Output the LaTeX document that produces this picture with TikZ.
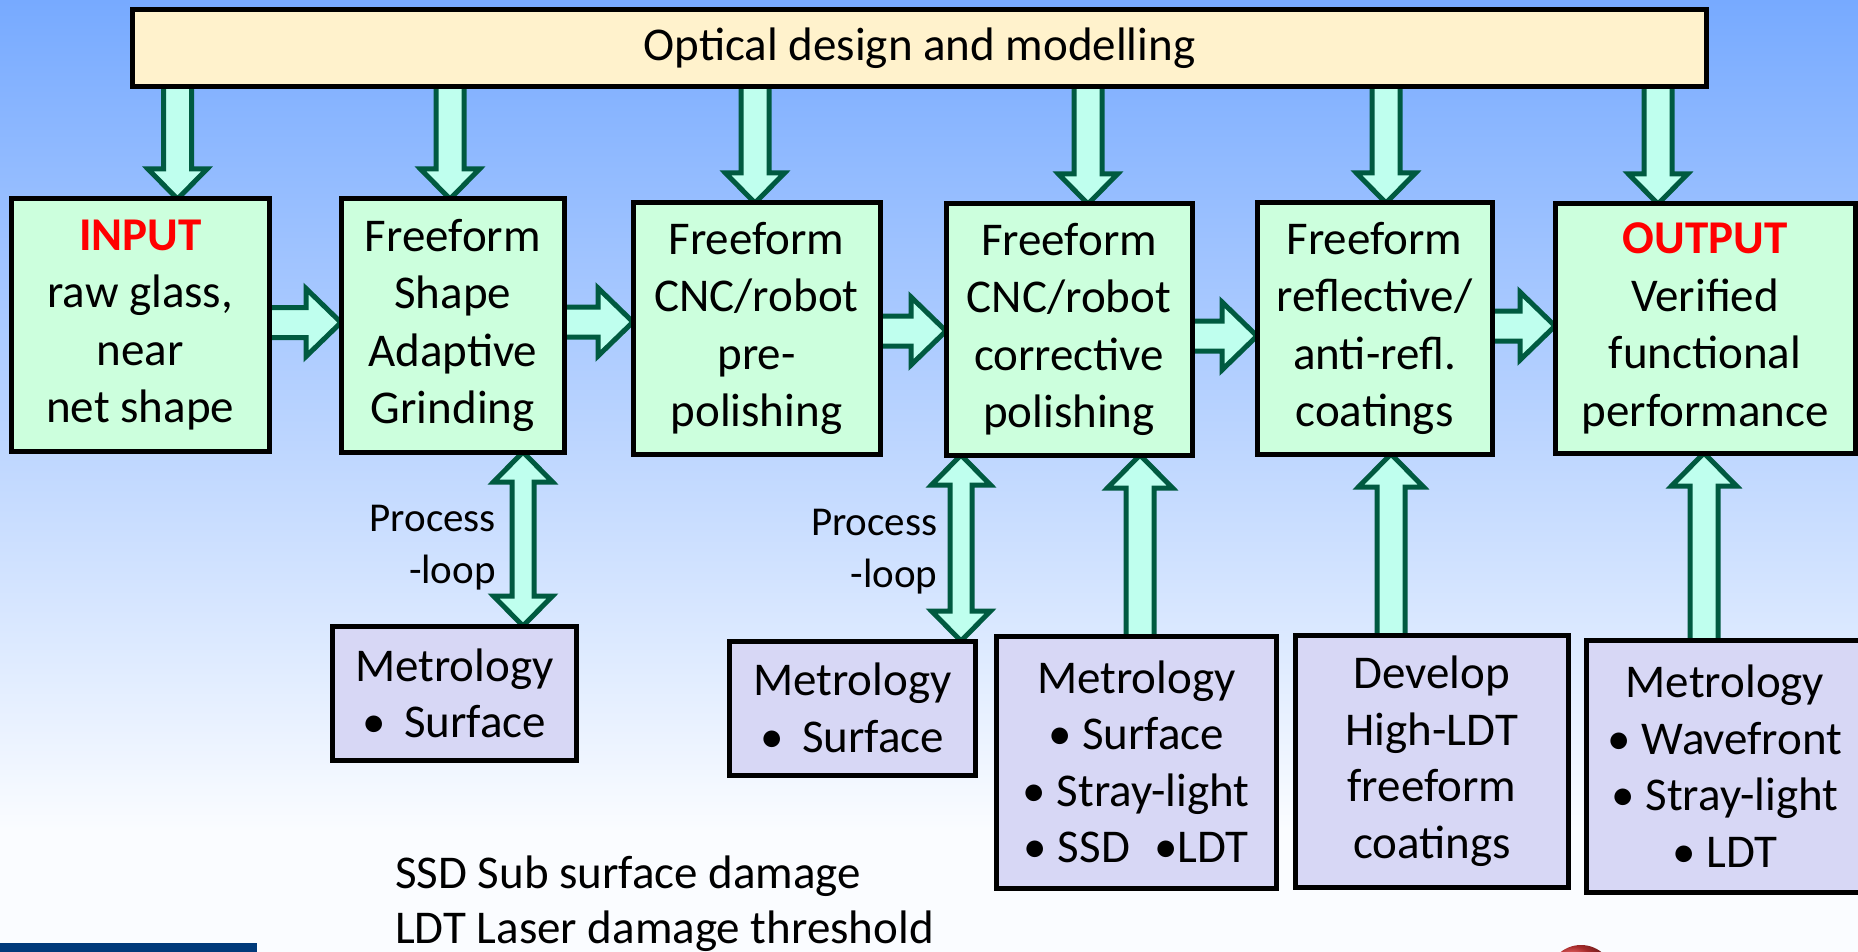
\documentclass[tikz,border=0pt]{standalone}
\usepackage{fontspec}
\setmainfont{Carlito}
\usetikzlibrary{calc}
\pgfdeclarelayer{backdrop}
\pgfdeclarelayer{connectors}
\pgfsetlayers{backdrop,connectors,main}

\definecolor{skytop}{RGB}{119,170,255}
\definecolor{skybottom}{RGB}{250,252,255}
\definecolor{designfill}{RGB}{255,242,204}
\definecolor{stagefill}{RGB}{204,255,221}
\definecolor{metrofill}{RGB}{215,215,245}
\definecolor{arrowfill}{RGB}{191,255,238}
\definecolor{arrowline}{RGB}{0,90,64}
\definecolor{labelred}{RGB}{255,0,0}
\definecolor{logoblue}{RGB}{0,58,122}
\definecolor{ballred}{RGB}{235,60,60}

\tikzset{
  boxbase/.style={draw=black, line width=5pt, inner sep=0pt, outer sep=0pt,
    align=center, font=\fontsize{47}{57.5}\selectfont},
  designbox/.style={boxbase, fill=designfill},
  stagebox/.style={boxbase, fill=stagefill},
  metrobox/.style={boxbase, fill=metrofill, font=\fontsize{47}{56.5}\selectfont},
  blockarrow/.style={draw=arrowline, fill=arrowfill, line width=5pt, line join=miter},
  looplabel/.style={align=right, anchor=east, inner sep=0pt,
    font=\fontsize{41}{52}\selectfont},
  notetext/.style={anchor=base west, inner sep=0pt, font=\fontsize{47}{55}\selectfont},
}

% block arrow pointing down: #1 x-position, #2 source node, #3 target node
\newcommand\blockdown[3]{%
  \draw[blockarrow] let \p1=(#1 |- #2.south), \p2=(#1 |- #3.north) in
    (\x1-14pt,\y1) -- (\x1-14pt,\y2+30pt) -- (\x1-29.5pt,\y2+30pt) -- (\x1,\y2)
    -- (\x1+29.5pt,\y2+30pt) -- (\x1+14pt,\y2+30pt) -- (\x1+14pt,\y1);}
% block arrow pointing right: #1 y-position, #2 source node, #3 target node
\newcommand\blockright[3]{%
  \draw[blockarrow] let \p1=(#2.east |- #1), \p2=(#3.west |- #1) in
    (\x1,\y1+15pt) -- (\x2-35pt,\y1+15pt) -- (\x2-35pt,\y1+34pt) -- (\x2,\y1)
    -- (\x2-35pt,\y1-34pt) -- (\x2-35pt,\y1-15pt) -- (\x1,\y1-15pt);}
% block arrow pointing up: #1 x-position, #2 source node (below), #3 target node (above)
\newcommand\blockup[3]{%
  \draw[blockarrow] let \p1=(#1 |- #2.north), \p2=(#1 |- #3.south) in
    (\x1-14pt,\y1) -- (\x1-14pt,\y2-33pt) -- (\x1-32.5pt,\y2-33pt) -- (\x1,\y2)
    -- (\x1+32.5pt,\y2-33pt) -- (\x1+14pt,\y2-33pt) -- (\x1+14pt,\y1);}
% double-headed vertical block arrow: #1 x-position, #2 upper node, #3 lower node
\newcommand\blockboth[3]{%
  \draw[blockarrow] let \p1=(#1 |- #2.south), \p2=(#1 |- #3.north) in
    (\x1,\y1) -- (\x1+29.5pt,\y1-30pt) -- (\x1+11pt,\y1-30pt) -- (\x1+11pt,\y2+30pt)
    -- (\x1+29.5pt,\y2+30pt) -- (\x1,\y2) -- (\x1-29.5pt,\y2+30pt) -- (\x1-11pt,\y2+30pt)
    -- (\x1-11pt,\y1-30pt) -- (\x1-29.5pt,\y1-30pt) -- cycle;}

\begin{document}
\begin{tikzpicture}[x=1pt,y=-1pt]
\useasboundingbox (0,0) rectangle (1858,952);

\begin{pgfonlayer}{backdrop}
  \fill[top color=skytop, bottom color=skybottom] (0,0) rectangle (1858,830);
  \fill[skybottom] (0,829) rectangle (1858,952);
  \fill[logoblue] (0,943) rectangle (257,952);
  \shade[ball color=ballred] (1581,978) circle (33);
\end{pgfonlayer}

% design bar
\node[designbox, minimum width=1574pt, minimum height=77pt] (design) at (919.5,48.5)
  {Optical design and modelling};

% process stages
\node[stagebox, minimum width=257.5pt, minimum height=252pt] (input) at (140.25,325)
  {{\bfseries\color{labelred}INPUT}\\raw glass,\\near\\net shape};
\node[stagebox, minimum width=223.5pt, minimum height=253pt] (grind) at (452.75,325.5)
  {Freeform\\Shape\\Adaptive\\Grinding};
\node[stagebox, minimum width=247pt, minimum height=251pt] (prepol) at (756.5,328.5)
  {Freeform\\CNC/robot\\pre-\\polishing};
\node[stagebox, minimum width=246pt, minimum height=251pt] (corrpol) at (1069,329.5)
  {Freeform\\CNC/robot\\corrective\\polishing};
\node[stagebox, minimum width=235pt, minimum height=251pt] (coat) at (1374.5,328.5)
  {Freeform\\reflective/\\anti-refl.\\coatings};
\node[stagebox, minimum width=300pt, minimum height=249pt] (output) at (1705,328.5)
  {{\bfseries\color{labelred}OUTPUT}\\Verified\\functional\\performance};

% metrology and development boxes
\node[metrobox, minimum width=244.5pt, minimum height=134.5pt] (metro1) at (454.25,693.25)
  {Metrology\\\makebox[42pt][l]{\textbullet}Surface};
\node[metrobox, minimum width=245.5pt, minimum height=134pt] (metro2) at (852.25,708)
  {Metrology\\\makebox[42pt][l]{\textbullet}Surface};
\node[metrobox, minimum width=280.5pt, minimum height=252pt] (metro3) at (1136.25,762)
  {Metrology\\\textbullet{} Surface\\\textbullet{} Stray-light\\\textbullet{} SSD\hspace{24pt}\textbullet LDT};
\node[metrobox, minimum width=272.3pt, minimum height=252pt] (develop) at (1431.85,761)
  {Develop\\High-LDT\\freeform\\coatings};
\node[metrobox, minimum width=278pt, minimum height=252pt] (metro4) at (1725,766)
  {Metrology\\\textbullet{} Wavefront\\\textbullet{} Stray-light\\\textbullet{} LDT};

% loop labels and notes
\node[looplabel] (loop1) at (496,548) {Process\\-loop};
\node[looplabel] (loop2) at (937.5,551.5) {Process\\-loop};
\node[notetext] (note1) at (395,888) {SSD Sub surface damage};
\node[notetext] (note2) at (395,943) {LDT Laser damage threshold};

% arrow positions
\coordinate (dn1) at (177.5,0);
\coordinate (dn2) at (450,0);
\coordinate (dn3) at (755,0);
\coordinate (dn4) at (1088,0);
\coordinate (dn5) at (1386,0);
\coordinate (dn6) at (1658,0);
\coordinate (rt1) at (0,322.5);
\coordinate (rt2) at (0,322);
\coordinate (rt3) at (0,331);
\coordinate (rt4) at (0,336);
\coordinate (rt5) at (0,326);
\coordinate (lp1) at (523,0);
\coordinate (lp2) at (961,0);
\coordinate (up1) at (1140,0);
\coordinate (up2) at (1391,0);
\coordinate (up3) at (1704,0);

\begin{pgfonlayer}{connectors}
  \blockdown{dn1}{design}{input}
  \blockdown{dn2}{design}{grind}
  \blockdown{dn3}{design}{prepol}
  \blockdown{dn4}{design}{corrpol}
  \blockdown{dn5}{design}{coat}
  \blockdown{dn6}{design}{output}
  \blockright{rt1}{input}{grind}
  \blockright{rt2}{grind}{prepol}
  \blockright{rt3}{prepol}{corrpol}
  \blockright{rt4}{corrpol}{coat}
  \blockright{rt5}{coat}{output}
  \blockboth{lp1}{grind}{metro1}
  \blockboth{lp2}{corrpol}{metro2}
  \blockup{up1}{metro3}{corrpol}
  \blockup{up2}{develop}{coat}
  \blockup{up3}{metro4}{output}
\end{pgfonlayer}
\end{tikzpicture}
\end{document}
